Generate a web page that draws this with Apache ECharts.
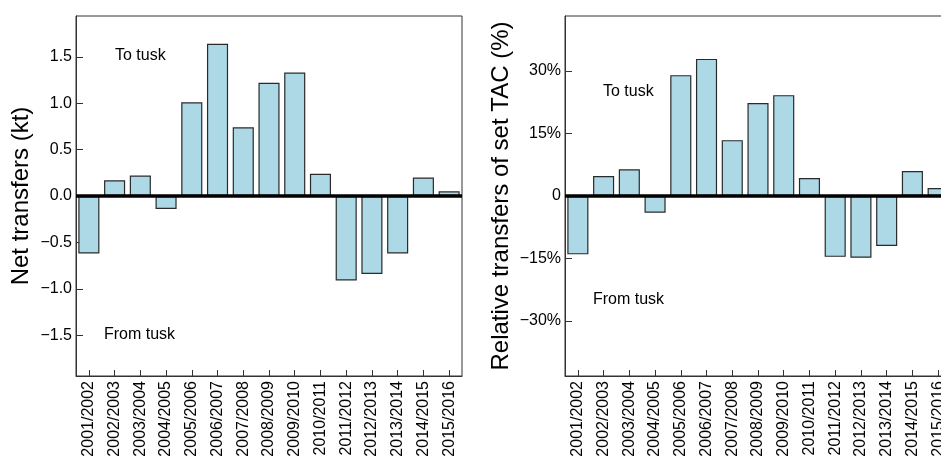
<!DOCTYPE html>
<html>
<head>
<meta charset="utf-8">
<script src="https://cdn.jsdelivr.net/npm/echarts@6/dist/echarts.min.js"></script>
<style>
html,body{margin:0;padding:0;background:#fff;}
#chart{width:941px;height:460px;}
</style>
</head>
<body>
<div id="chart"></div>
<script>
var seasons = ['2001/2002','2002/2003','2003/2004','2004/2005','2005/2006','2006/2007','2007/2008','2008/2009','2009/2010','2010/2011','2011/2012','2012/2013','2013/2014','2014/2015','2015/2016'];
var netTransfersKt = [-0.62, 0.17, 0.22, -0.14, 1.01, 1.64, 0.74, 1.22, 1.33, 0.24, -0.91, -0.84, -0.62, 0.20, 0.05];
var relativeTransfersPct = [-14.0, 4.8, 6.4, -4.0, 29.0, 32.9, 13.4, 22.3, 24.2, 4.3, -14.6, -14.8, -12.0, 6.0, 1.9];
var leftTicks = [-1.5, -1.0, -0.5, 0, 0.5, 1.0, 1.5];
var rightTicks = [-30, -15, 0, 15, 30];
var leftTitle = 'Net transfers (kt)';
var rightTitle = 'Relative transfers of set TAC (%)';
var toLabel = 'To tusk';
var fromLabel = 'From tusk';

var FONT = '"Liberation Sans", Arial, Helvetica, sans-serif';
var FRAME = '#333';
function minus(s){ return String(s).replace('-', '\u2212'); }

var chart = echarts.init(document.getElementById('chart'), null, {renderer:'canvas'});

function xAxisCfg(gi){
  return {
    type:'category', gridIndex:gi, data:seasons, boundaryGap:true,
    axisLine:{show:true, onZero:false, lineStyle:{color:FRAME, width:1}},
    axisTick:{show:true, inside:true, length:6, alignWithLabel:true, lineStyle:{color:FRAME, width:1}},
    axisLabel:{interval:0, rotate:90, margin:5, color:'#000', fontSize:16, fontFamily:FONT},
    splitLine:{show:false}
  };
}
function yAxisCfg(gi, min, max, ticks, fmt, name, gap){
  return {
    type:'value', gridIndex:gi, min:min, max:max,
    name:name, nameLocation:'middle', nameGap:gap,
    nameTextStyle:{color:'#000', fontSize:24, fontFamily:FONT},
    axisLine:{show:true, lineStyle:{color:FRAME, width:1}},
    axisTick:{show:true, inside:true, length:7, customValues:ticks, lineStyle:{color:FRAME, width:1}},
    axisLabel:{show:true, customValues:ticks, margin:4, color:'#000', fontSize:16, fontFamily:FONT, formatter:fmt},
    splitLine:{show:false}
  };
}
function barSeries(gi, data){
  return {
    type:'bar', xAxisIndex:gi, yAxisIndex:gi, data:data,
    barCategoryGap:'18%',
    itemStyle:{color:'#ADD8E6', borderColor:'#2a2a2a', borderWidth:1.2},
    silent:true,
    markLine:{
      silent:true, symbol:['none','none'], label:{show:false},
      lineStyle:{color:'#000', width:3.5, type:'solid'},
      data:[{yAxis:0}]
    }
  };
}

chart.setOption({
  animation:false,
  backgroundColor:'#fff',
  grid:[
    {left:76, top:16, width:386, height:360, outerBoundsMode:'none', containLabel:false, show:true, borderColor:FRAME, borderWidth:1, backgroundColor:'transparent'},
    {left:565, top:16, width:386, height:360, outerBoundsMode:'none', containLabel:false, show:true, borderColor:FRAME, borderWidth:1, backgroundColor:'transparent'}
  ],
  xAxis:[xAxisCfg(0), xAxisCfg(1)],
  yAxis:[
    yAxisCfg(0, -1.94, 1.94, leftTicks, function(v){ return minus(v.toFixed(1)); }, leftTitle, 43),
    yAxisCfg(1, -43.2, 43.2, rightTicks, function(v){ return v === 0 ? '0' : minus(Math.round(v)) + '%'; }, rightTitle, 52)
  ],
  series:[barSeries(0, netTransfersKt), barSeries(1, relativeTransfersPct)],
  graphic:[
    {type:'text', left:115, top:48, style:{text:toLabel, fill:'#000', font:'16px ' + FONT}},
    {type:'text', left:104, top:327, style:{text:fromLabel, fill:'#000', font:'16px ' + FONT}},
    {type:'text', left:603, top:84, style:{text:toLabel, fill:'#000', font:'16px ' + FONT}},
    {type:'text', left:593, top:292, style:{text:fromLabel, fill:'#000', font:'16px ' + FONT}}
  ]
});
</script>
</body>
</html>
